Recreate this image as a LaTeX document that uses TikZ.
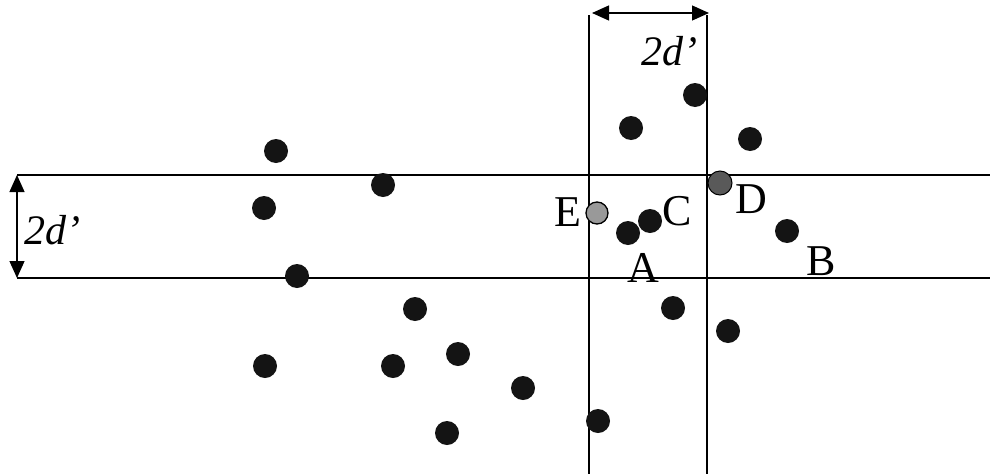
\documentclass[tikz,border=0pt]{standalone}
\usepackage{fontspec}
\setmainfont{Liberation Serif}
\usetikzlibrary{arrows.meta}
\begin{document}
\begin{tikzpicture}[x=1pt,y=-1pt,
  band/.style={line width=2.2pt,black},
  dim/.style={line width=1.3pt,{Triangle[length=17pt,width=15pt]}-{Triangle[length=17pt,width=15pt]}},
  dot/.style={circle,fill=black!92,inner sep=0pt,minimum size=24pt},
  graydotlight/.style={circle,fill=black!40,draw=black,line width=1.3pt,inner sep=0pt,minimum size=22pt},
  graydotdark/.style={circle,fill=black!65,draw=black,line width=1pt,inner sep=0pt,minimum size=24pt},
  lbl/.style={font=\fontsize{44}{44}\selectfont,inner sep=0pt},
  dlbl/.style={font=\fontsize{42}{42}\selectfont\itshape,inner sep=0pt}]
\useasboundingbox (0,0) rectangle (990,474);
% band corners
\coordinate (hTL) at (17,175);
\coordinate (hTR) at (990,175);
\coordinate (hBL) at (17,278);
\coordinate (hBR) at (990,278);
\coordinate (vLT) at (589,15);
\coordinate (vLB) at (589,474);
\coordinate (vRT) at (707,15);
\coordinate (vRB) at (707,474);
\draw[band] (hTL) -- (hTR);
\draw[band] (hBL) -- (hBR);
\draw[band] (vLT) -- (vLB);
\draw[band] (vRT) -- (vRB);
% dimension arrows
\coordinate (aL) at (592,13);
\coordinate (aR) at (709,13);
\draw[dim] (aL) -- (aR);
\coordinate (bT) at (17,175);
\coordinate (bB) at (17,278);
\draw[dim] (bT) -- (bB);
\node[dlbl] (dtop) at (669,51) {2d’};
\node[dlbl] (dleft) at (52,230) {2d’};
% dots
\node[dot] (p1) at (276,151) {};
\node[dot] (p2) at (383,185) {};
\node[dot] (p3) at (264,208) {};
\node[dot] (p4) at (297,276) {};
\node[dot] (p5) at (415,309) {};
\node[dot] (p6) at (265,366) {};
\node[dot] (p7) at (393,366) {};
\node[dot] (p8) at (458,354) {};
\node[dot] (p9) at (523,388) {};
\node[dot] (p10) at (447,433) {};
\node[dot] (p11) at (598,421) {};
\node[dot] (p12) at (631,128) {};
\node[dot] (p13) at (695,95) {};
\node[dot] (p14) at (750,139) {};
\node[dot] (pA) at (628,233) {};
\node[dot] (pC) at (650,221) {};
\node[dot] (pB) at (787,231) {};
\node[dot] (p20) at (673,308) {};
\node[dot] (p21) at (728,331) {};
\node[graydotlight] (pE) at (597,213) {};
\node[graydotdark] (pD) at (720,183) {};
% letters
\node[lbl] (lE) at (568,212) {E};
\node[lbl] (lC) at (677,211) {C};
\node[lbl] (lD) at (751,199) {D};
\node[lbl] (lA) at (643,268) {A};
\node[lbl] (lB) at (821,261) {B};
\end{tikzpicture}
\end{document}
